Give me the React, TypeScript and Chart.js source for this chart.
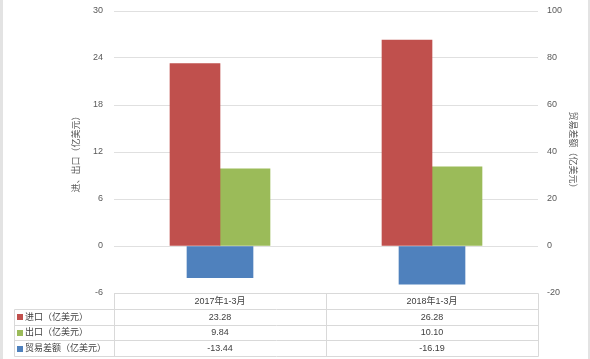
import React, { useEffect, useRef } from 'react';
import { Chart, registerables } from 'chart.js';

Chart.register(...registerables);

const categories = ['2017年1-3月', '2018年1-3月'];
const importValues = [23.28, 26.28];
const exportValues = [9.84, 10.1];
const balanceValues = [-13.44, -16.19];
const seriesNames = ['进口（亿美元）', '出口（亿美元）', '贸易差额（亿美元）'];
const seriesColors = ['#C0504D', '#9BBB59', '#4F81BD'];
const leftTitle = '进、出口（亿美元）';
const rightTitle = '贸易差额（亿美元）';
const leftRange = { min: -6, max: 30, step: 6 };
const rightRange = { min: -20, max: 100, step: 20 };

const FONT = '"Liberation Sans", "Noto Sans CJK SC", sans-serif';

const tablePlugin = {
  id: 'dataTable',
  afterDraw(chart: any) {
    const ctx = chart.ctx as CanvasRenderingContext2D;
    const { left, right, bottom } = chart.chartArea;
    const xs = chart.scales.x;
    const rowH = 15.75;
    const legendLeft = 14;
    const top = bottom;
    const px = (v: number) => Math.round(v) + 0.5;
    ctx.save();
    ctx.strokeStyle = '#d9d9d9';
    ctx.lineWidth = 1;
    const line = (x1: number, y1: number, x2: number, y2: number) => {
      ctx.beginPath();
      ctx.moveTo(px(x1), px(y1));
      ctx.lineTo(px(x2), px(y2));
      ctx.stroke();
    };
    line(left, top, right, top);
    for (let i = 1; i <= 4; i++) line(legendLeft, top + i * rowH, right, top + i * rowH);
    line(left, top, left, top + 4 * rowH);
    line(right, top, right, top + 4 * rowH);
    line(legendLeft, top + rowH, legendLeft, top + 4 * rowH);
    for (let i = 0; i < categories.length - 1; i++) {
      const mid = (xs.getPixelForValue(i) + xs.getPixelForValue(i + 1)) / 2;
      line(mid, top, mid, top + 4 * rowH);
    }

    ctx.font = `9px ${FONT}`;
    ctx.fillStyle = '#404040';
    ctx.textAlign = 'center';
    ctx.textBaseline = 'middle';
    categories.forEach((c, i) => {
      ctx.fillText(c, xs.getPixelForValue(i), top + rowH / 2 + 0.5);
    });
    const rows = [importValues, exportValues, balanceValues];
    rows.forEach((vals, r) => {
      const cy = top + (r + 1) * rowH + rowH / 2 + 0.5;
      vals.forEach((v, i) => {
        ctx.textAlign = 'center';
        ctx.fillStyle = '#404040';
        ctx.fillText(v.toFixed(2), xs.getPixelForValue(i), cy);
      });
      ctx.fillStyle = seriesColors[r];
      ctx.fillRect(legendLeft + 3, Math.round(cy - 3), 6, 6);
      ctx.fillStyle = '#404040';
      ctx.textAlign = 'left';
      ctx.fillText(seriesNames[r], legendLeft + 11, cy);
    });

    // outer frame edges
    ctx.fillStyle = '#e3e3e3';
    ctx.fillRect(0, 0, 3, chart.height);
    ctx.fillRect(chart.width - 2, 0, 2, chart.height);
    ctx.restore();
  },
};

export default function App() {
  const ref = useRef<HTMLCanvasElement | null>(null);
  useEffect(() => {
    if (!ref.current) return;
    const chart = new Chart(ref.current, {
      type: 'bar',
      data: {
        labels: categories,
        datasets: [
          {
            label: seriesNames[0],
            data: importValues,
            backgroundColor: seriesColors[0],
            yAxisID: 'y',
            barThickness: 50,
          },
          {
            label: seriesNames[1],
            data: exportValues,
            backgroundColor: seriesColors[1],
            yAxisID: 'y',
            barThickness: 50,
          },
          {
            label: seriesNames[2],
            data: balanceValues,
            backgroundColor: seriesColors[2],
            yAxisID: 'y1',
            barThickness: 66,
            grouped: false,
          } as any,
        ],
      },
      options: {
        responsive: false,
        animation: false,
        layout: { padding: { top: 11, bottom: 66, left: 0, right: 0 } },
        plugins: {
          legend: { display: false },
          tooltip: { enabled: false },
        },
        scales: {
          x: { display: false, offset: true },
          y: {
            position: 'left',
            min: leftRange.min,
            max: leftRange.max,
            ticks: {
              stepSize: leftRange.step,
              color: '#595959',
              font: { family: FONT, size: 9 },
              padding: 11,
            },
            grid: { color: '#e0e0e0', drawTicks: false, lineWidth: 1 },
            border: { display: false },
            title: {
              display: true,
              text: leftTitle,
              color: '#595959',
              font: { family: FONT, size: 9 },
              padding: { top: 71, bottom: 0 },
            },
            afterFit: (s: any) => {
              s.width = 114;
              s.paddingTop = 0;
              s.paddingBottom = 0;
            },
          },
          y1: {
            position: 'right',
            min: rightRange.min,
            max: rightRange.max,
            ticks: {
              stepSize: rightRange.step,
              color: '#595959',
              font: { family: FONT, size: 9 },
              padding: 9,
            },
            grid: { drawOnChartArea: false, drawTicks: false },
            border: { display: false },
            title: {
              display: true,
              text: rightTitle,
              color: '#595959',
              font: { family: FONT, size: 9 },
              padding: { top: 12, bottom: 0 },
            },
            afterFit: (s: any) => {
              s.width = 52;
              s.paddingTop = 0;
              s.paddingBottom = 0;
            },
          },
        },
      },
      plugins: [tablePlugin],
    });
    return () => chart.destroy();
  }, []);
  return (
    <div style={{ position: 'absolute', left: 0, top: 0, width: 590, height: 359, background: '#fff' }}>
      <canvas ref={ref} width={590} height={359} style={{ display: 'block' }} />
    </div>
  );
}
